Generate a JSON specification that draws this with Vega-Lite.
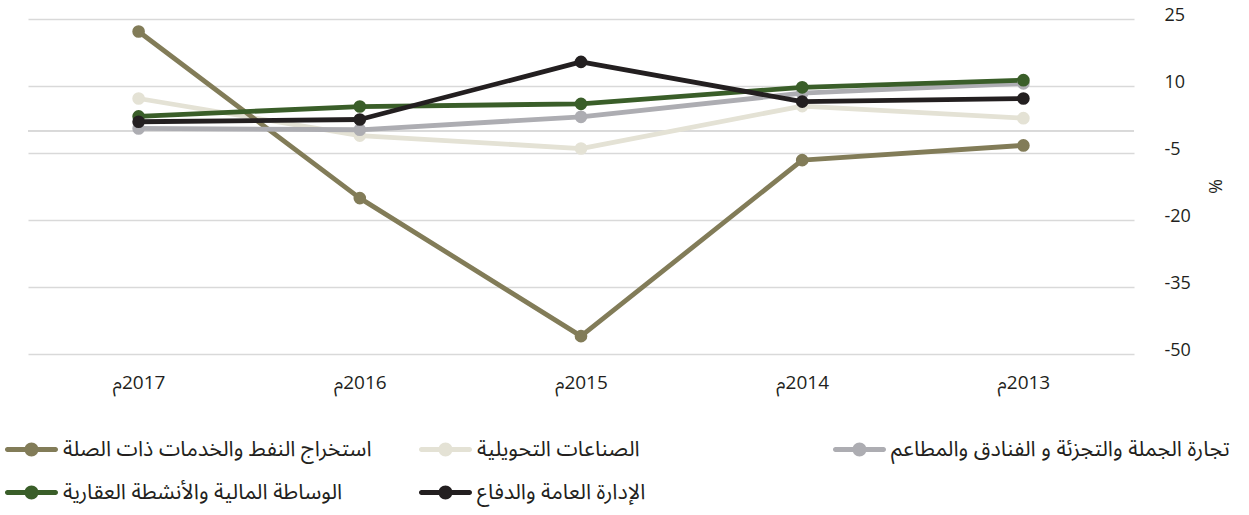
{
  "$schema": "https://vega.github.io/schema/vega-lite/v6.json",
  "width": 1106,
  "height": 335,
  "autosize": {"type": "none"},
  "padding": {"left": 28, "top": 19, "right": 115, "bottom": 161},
  "background": "white",
  "config": {"view": {"stroke": null}, "font": "Open Sans"},
  "data": {
    "values": [
      {"series": "الصناعات التحويلية", "year": "2017", "value": 7.2},
      {"series": "الصناعات التحويلية", "year": "2016", "value": -1.1},
      {"series": "الصناعات التحويلية", "year": "2015", "value": -4.0},
      {"series": "الصناعات التحويلية", "year": "2014", "value": 5.5},
      {"series": "الصناعات التحويلية", "year": "2013", "value": 2.8},
      {"series": "استخراج النفط والخدمات ذات الصلة", "year": "2017", "value": 22.2},
      {"series": "استخراج النفط والخدمات ذات الصلة", "year": "2016", "value": -15.1},
      {"series": "استخراج النفط والخدمات ذات الصلة", "year": "2015", "value": -46.0},
      {"series": "استخراج النفط والخدمات ذات الصلة", "year": "2014", "value": -6.6},
      {"series": "استخراج النفط والخدمات ذات الصلة", "year": "2013", "value": -3.3},
      {"series": "تجارة الجملة والتجزئة و الفنادق والمطاعم", "year": "2017", "value": 0.5},
      {"series": "تجارة الجملة والتجزئة و الفنادق والمطاعم", "year": "2016", "value": 0.2},
      {"series": "تجارة الجملة والتجزئة و الفنادق والمطاعم", "year": "2015", "value": 3.1},
      {"series": "تجارة الجملة والتجزئة و الفنادق والمطاعم", "year": "2014", "value": 8.4},
      {"series": "تجارة الجملة والتجزئة و الفنادق والمطاعم", "year": "2013", "value": 10.6},
      {"series": "الوساطة المالية والأنشطة العقارية", "year": "2017", "value": 3.2},
      {"series": "الوساطة المالية والأنشطة العقارية", "year": "2016", "value": 5.4},
      {"series": "الوساطة المالية والأنشطة العقارية", "year": "2015", "value": 6.0},
      {"series": "الوساطة المالية والأنشطة العقارية", "year": "2014", "value": 9.7},
      {"series": "الوساطة المالية والأنشطة العقارية", "year": "2013", "value": 11.3},
      {"series": "الإدارة العامة والدفاع", "year": "2017", "value": 2.0},
      {"series": "الإدارة العامة والدفاع", "year": "2016", "value": 2.5},
      {"series": "الإدارة العامة والدفاع", "year": "2015", "value": 15.4},
      {"series": "الإدارة العامة والدفاع", "year": "2014", "value": 6.5},
      {"series": "الإدارة العامة والدفاع", "year": "2013", "value": 7.2}
    ]
  },
  "layer": [
    {
      "mark": {"type": "rule", "color": "#d9d9d9", "strokeWidth": 1.5},
      "encoding": {"y": {"datum": 0, "type": "quantitative"}}
    },
    {
      "mark": {
        "type": "line",
        "strokeWidth": 4.8,
        "strokeCap": "round",
        "strokeJoin": "round",
        "point": {"filled": true, "size": 160, "opacity": 1}
      },
      "encoding": {
        "x": {
          "field": "year",
          "type": "ordinal",
          "sort": "descending",
          "scale": {"type": "point", "padding": 0.5},
          "axis": {
            "title": null,
            "domain": false,
            "ticks": false,
            "grid": false,
            "labelAngle": 0,
            "labelExpr": "'م‎' + datum.label",
            "labelFontSize": 19,
            "labelPadding": 19,
            "labelColor": "#231f20",
            "labelFont": "Open Sans, Noto Sans Arabic, DejaVu Sans"
          }
        },
        "y": {
          "field": "value",
          "type": "quantitative",
          "scale": {"domain": [-50, 25], "nice": false, "zero": false},
          "axis": {
            "orient": "right",
            "values": [-50, -35, -20, -5, 10, 25],
            "grid": true,
            "gridColor": "#d9d9d9",
            "gridWidth": 1.5,
            "domain": false,
            "ticks": false,
            "labelExpr": "'' + datum.value",
            "labelFontSize": 18,
            "labelFont": "Open Sans",
            "labelColor": "#231f20",
            "labelPadding": 30,
            "labelAlign": "left",
            "labelOffset": -4,
            "title": "%",
            "titleX": 79,
            "titleY": 167,
            "titleAngle": 90,
            "titleAlign": "center",
            "titleBaseline": "middle",
            "titleFontSize": 18,
            "titleFontWeight": "normal",
            "titleFont": "Open Sans",
            "titleColor": "#231f20"
          }
        },
        "color": {
          "field": "series",
          "type": "nominal",
          "scale": {
            "domain": [
              "استخراج النفط والخدمات ذات الصلة",
              "الصناعات التحويلية",
              "تجارة الجملة والتجزئة و الفنادق والمطاعم",
              "الوساطة المالية والأنشطة العقارية",
              "الإدارة العامة والدفاع"
            ],
            "range": ["#827c58", "#e4e2d5", "#adadb2", "#3a5e29", "#231f20"]
          },
          "legend": {
            "title": null,
            "orient": "none",
            "legendX": -23,
            "legendY": 404,
            "direction": "horizontal",
            "columns": 3,
            "gridAlign": "all",
            "columnPadding": 17,
            "rowPadding": 6,
            "padding": 0,
            "symbolType": "M-0.906,-0.094H0.906A0.094,0.094 0 0,1 0.906,0.094H-0.906A0.094,0.094 0 0,1 -0.906,-0.094Z M-0.264,0A0.264,0.264 0 1,1 0.264,0A0.264,0.264 0 1,1 -0.264,0Z",
            "symbolSize": 2809,
            "symbolStrokeWidth": 0,
            "symbolOpacity": 1,
            "labelFontSize": 21.5,
            "labelFont": "Noto Sans Arabic, Noto Naskh Arabic, DejaVu Sans",
            "labelColor": "#231f20",
            "labelLimit": 600,
            "labelOffset": 5,
            "encode": {
              "symbols": {
                "update": {
                  "fill": {"scale": "color", "field": "value"},
                  "opacity": {"value": 1}
                }
              }
            }
          }
        }
      }
    }
  ]
}
